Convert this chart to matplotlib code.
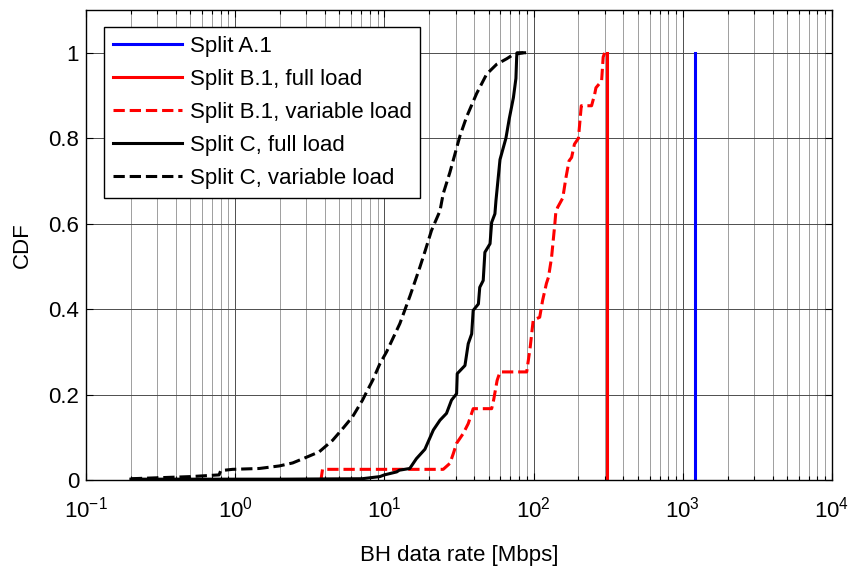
#!/usr/bin/env python3

"""
CDF of backhaul (BH) data rate for the different functional splits.
Log x-axis, MATLAB-like look (boxed axes, minor grid, inward ticks).
"""

import matplotlib
matplotlib.use("Agg")
import matplotlib.pyplot as plt
from matplotlib.ticker import FixedLocator, LogLocator, NullFormatter, FormatStrFormatter

# -------------------------------------------------------------------
# CONFIG
# -------------------------------------------------------------------
OUTPUT_FIG = "out.png"
FONT = ["Liberation Sans", "DejaVu Sans"]
FS = 16

# -------------------------------------------------------------------
# DATA
# -------------------------------------------------------------------
# Split A.1 and Split B.1 full load are constant rates -> vertical steps
split_a1_x = [1200, 1200]
split_a1_y = [0.0, 1.0]

split_b1_full_x = [310, 310]
split_b1_full_y = [0.0, 1.0]

# Split B.1, variable load
split_b1_var_x = [2.9, 3.76, 3.85, 24.8, 27.5, 29.0, 30.5, 33.8, 36.5, 39.4,
                  52.4, 54.0, 57.0, 59.6, 90.0, 95.0, 99.5, 110, 115, 122,
                  126, 132, 139, 141, 145, 157, 165, 173, 180, 188,
                  200, 209, 245, 257, 262, 286, 293, 300]
split_b1_var_y = [0.0, 0.0, 0.025, 0.025, 0.039, 0.062, 0.086, 0.109, 0.132, 0.167,
                  0.167, 0.187, 0.233, 0.253, 0.253, 0.311, 0.374, 0.381, 0.42, 0.46,
                  0.475, 0.52, 0.60, 0.626, 0.638, 0.66, 0.708, 0.747, 0.755, 0.786,
                  0.80, 0.876, 0.876, 0.903, 0.918, 0.934, 0.99, 1.0]

# Split C, full load
split_c_full_x = [0.2, 2.0, 7.08, 9.33, 10.0, 12.1, 12.6, 14.8, 16.4, 18.7,
                  21.3, 23.6, 26.1, 28.2, 30.5, 30.8, 34.7, 36.5, 38.5, 39.4,
                  42.7, 43.6, 46.0, 47.2, 51.1, 52.4, 55.1, 56.0, 59.6, 65.3,
                  68.7, 73.3, 76.2, 77.1, 77.6, 87.1]
split_c_full_y = [0.002, 0.002, 0.003, 0.008, 0.012, 0.019, 0.023, 0.027, 0.05, 0.072,
                  0.117, 0.14, 0.156, 0.187, 0.202, 0.249, 0.268, 0.319, 0.342, 0.397,
                  0.412, 0.451, 0.467, 0.533, 0.553, 0.603, 0.623, 0.654, 0.75, 0.80,
                  0.845, 0.895, 0.94, 0.99, 1.0, 1.0]

# Split C, variable load
split_c_var_x = [0.2, 0.5, 0.78, 0.8, 0.96, 1.45, 1.98, 2.43, 2.99, 3.66,
                 4.5, 5.25, 6.12, 7.14, 7.6, 8.34, 9.33, 10.35, 12.7, 14.9,
                 17.3, 18.8, 20.7, 23.6, 24.8, 27.5, 32.1, 35.6, 41.6, 48.5,
                 56.6, 66.1, 73.3, 85.5]
split_c_var_y = [0.003, 0.008, 0.012, 0.022, 0.025, 0.027, 0.033, 0.04, 0.053, 0.066,
                 0.093, 0.12, 0.148, 0.187, 0.206, 0.233, 0.272, 0.30, 0.366, 0.432,
                 0.498, 0.537, 0.584, 0.63, 0.67, 0.72, 0.805, 0.85, 0.905, 0.95,
                 0.973, 0.986, 0.996, 1.0]


def main():
    plt.rcParams["font.family"] = FONT
    plt.rcParams["mathtext.fontset"] = "custom"
    plt.rcParams["mathtext.rm"] = "Liberation Sans"
    plt.rcParams["axes.unicode_minus"] = False

    fig = plt.figure(figsize=(8.48, 5.67), dpi=100)
    ax = fig.add_axes([0.1014, 0.1534, 0.8796, 0.8289])

    lw = 2.2
    ax.plot(split_a1_x, split_a1_y, color="#0000ff", lw=lw, label="Split A.1")
    ax.plot(split_b1_full_x, split_b1_full_y, color="#ff0000", lw=lw,
            label="Split B.1, full load")
    ax.plot(split_b1_var_x, split_b1_var_y, color="#ff0000", lw=lw, ls="--",
            label="Split B.1, variable load")
    ax.plot(split_c_full_x, split_c_full_y, color="black", lw=lw,
            label="Split C, full load")
    ax.plot(split_c_var_x, split_c_var_y, color="black", lw=lw, ls="--",
            label="Split C, variable load")

    # axes / scales
    ax.set_xscale("log")
    ax.set_xlim(0.1, 1e4)
    ax.set_ylim(0, 1.1)
    ax.xaxis.set_major_locator(LogLocator(base=10, numticks=10))
    ax.xaxis.set_minor_locator(LogLocator(base=10, subs=range(2, 10), numticks=50))
    ax.xaxis.set_minor_formatter(NullFormatter())
    ax.yaxis.set_major_locator(FixedLocator([0, 0.2, 0.4, 0.6, 0.8, 1.0]))
    ax.yaxis.set_major_formatter(FormatStrFormatter("%g"))

    # MATLAB-ish grid
    ax.grid(True, which="major", color="0.3", lw=0.7)
    ax.grid(True, which="minor", axis="x", color="0.62", lw=0.7)
    ax.set_axisbelow(True)

    ax.tick_params(which="both", direction="in", top=True, right=True,
                   labelsize=FS)
    ax.tick_params(axis="x", which="major", pad=12)
    ax.tick_params(axis="y", which="major", pad=5)
    ax.tick_params(which="major", length=5, width=0.8)
    ax.tick_params(which="minor", length=3, width=0.8)
    for sp in ax.spines.values():
        sp.set_linewidth(1.0)
        sp.set_color("black")

    ax.set_xlabel("BH data rate [Mbps]", fontsize=FS, labelpad=16)
    ax.set_ylabel("CDF", fontsize=FS, labelpad=11)

    leg = ax.legend(loc="upper left", bbox_to_anchor=(0.024, 0.964),
                    borderaxespad=0, fontsize=FS, fancybox=False,
                    framealpha=1, edgecolor="black", handlelength=3.1,
                    handletextpad=0.36, labelspacing=0.54, borderpad=0.4)
    leg.get_frame().set_linewidth(1.0)

    fig.savefig(OUTPUT_FIG, dpi=100)
    print(f"Saved plot to: {OUTPUT_FIG}")


if __name__ == "__main__":
    main()
